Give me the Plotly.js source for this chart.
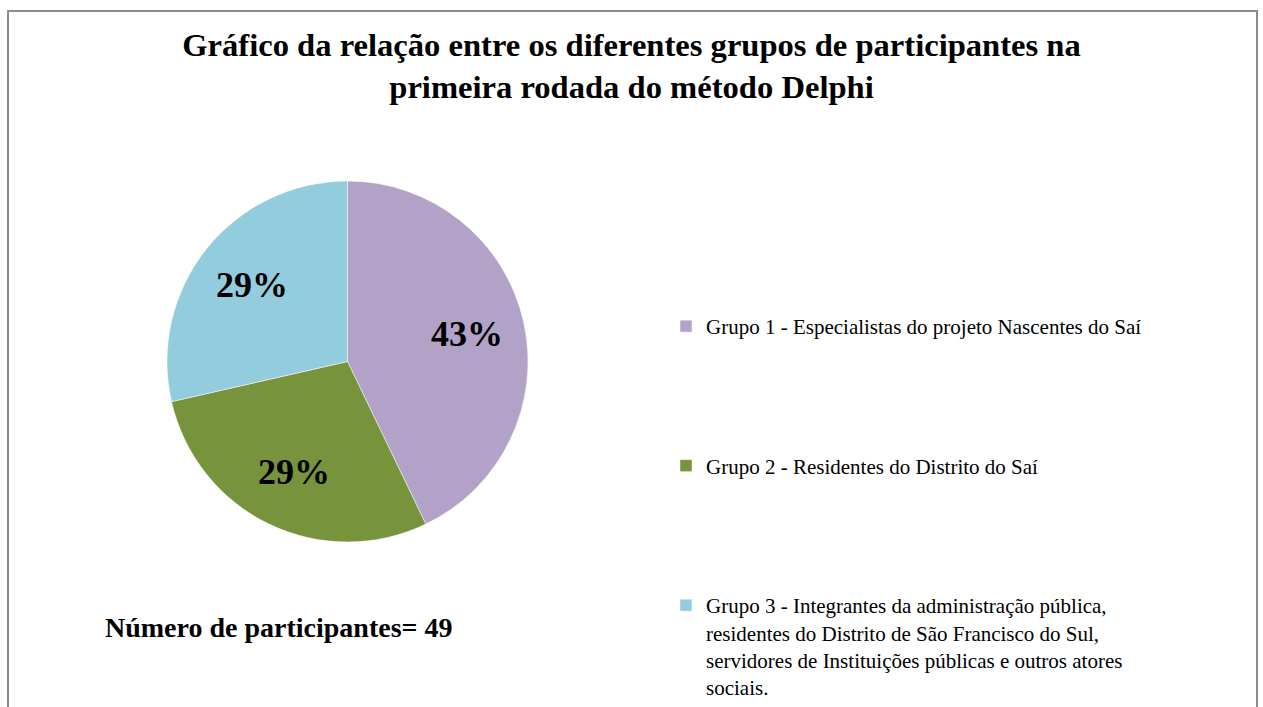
<!DOCTYPE html>
<html>
<head>
<meta charset="utf-8">
<script src="https://cdn.plot.ly/plotly-3.0.1.min.js"></script>
<style>
  html, body { margin: 0; padding: 0; background: #fff; }
  #chart { width: 1263px; height: 707px; }
</style>
</head>
<body>
<div id="chart"></div>
<script>
// participantes por grupo (total 49)
const groupNames = [
  'Grupo 1 - Especialistas do projeto Nascentes do Saí',
  'Grupo 2 - Residentes do Distrito do Saí',
  'Grupo 3 - Integrantes da administração pública,<br>residentes do Distrito de São Francisco do Sul,<br>servidores de Instituições públicas e outros atores<br>sociais.'
];
const participants = [21, 14, 14];
const sliceColors = ['#b3a2c7', '#77933c', '#93cddd'];
const totalLabel = 'Número de participantes= 49';

const serif = 'Liberation Serif, Times New Roman, serif';
const W = 1263, H = 707;

// pie box in pixels
const pieBox = { left: 167, right: 528, top: 181, bottom: 542 };
const dom = {
  x: [pieBox.left / W, pieBox.right / W],
  y: [1 - pieBox.bottom / H, 1 - pieBox.top / H]
};

// blank lines to spread legend entries down the right side
const legendLabels = groupNames.map((n, i) =>
  i < groupNames.length - 1 ? n + '<br> <br> <br> <br> ' : n);

// percent labels placed at the middle angle of each slice
const total = participants.reduce((a, b) => a + b, 0);
const cx = (pieBox.left + pieBox.right) / 2, cy = (pieBox.top + pieBox.bottom) / 2;
const rad = (pieBox.right - pieBox.left) / 2;
let acc = 0;
const pctAnnotations = participants.map(v => {
  const mid = (acc + v / 2) / total * 2 * Math.PI;
  acc += v;
  const px = cx + 0.68 * rad * Math.sin(mid);
  const py = cy - 0.68 * rad * Math.cos(mid);
  return {
    text: Math.round(v / total * 100) + '%',
    xref: 'paper', yref: 'paper', x: px / W, y: 1 - py / H,
    xanchor: 'center', yanchor: 'middle', showarrow: false,
    font: { family: serif, size: 36, color: '#000', weight: 'bold' }
  };
});

const trace = {
  type: 'pie',
  labels: legendLabels,
  values: participants,
  sort: false,
  direction: 'clockwise',
  rotation: 0,
  marker: { colors: sliceColors, line: { color: '#ffffff', width: 0.5 } },
  textinfo: 'none',
  domain: dom,
  hoverinfo: 'label+value+percent'
};

const layout = {
  width: W,
  height: H,
  margin: { l: 0, r: 0, t: 0, b: 0, autoexpand: false },
  paper_bgcolor: '#fff',
  title: {
    text: 'Gráfico da relação entre os diferentes grupos de participantes na<br>primeira rodada do método Delphi',
    font: { family: serif, size: 32.6, color: '#000', weight: 'bold' },
    x: 0.5, xanchor: 'center',
    y: 1 - 56/707, yanchor: 'top', yref: 'container'
  },
  showlegend: true,
  legend: {
    x: 666/1263, xanchor: 'left',
    y: 1 - 306/707, yanchor: 'top',
    valign: 'top',
    font: { family: serif, size: 21, color: '#000' },
    bgcolor: 'rgba(0,0,0,0)'
  },
  shapes: [{
    type: 'rect', xref: 'paper', yref: 'paper',
    x0: 8/1263, x1: 1257/1263, y0: -0.1, y1: 1 - 11/707,
    line: { color: '#8c8c8c', width: 2 }
  }],
  annotations: pctAnnotations.concat([
    {
      text: totalLabel, xref: 'paper', yref: 'paper',
      x: 279/1263, y: 1 - 627/707, xanchor: 'center', yanchor: 'middle',
      showarrow: false,
      font: { family: serif, size: 28, color: '#000', weight: 'bold' }
    },
    {
      text: 'Delphi', xref: 'paper', yref: 'paper',
      x: 0.5, y: 1 + 3/707, xanchor: 'center', yanchor: 'bottom',
      showarrow: false,
      font: { family: serif, size: 22, color: '#000' }
    }
  ])
};

Plotly.newPlot('chart', [trace], layout, { displayModeBar: false, responsive: false });
</script>
</body>
</html>
